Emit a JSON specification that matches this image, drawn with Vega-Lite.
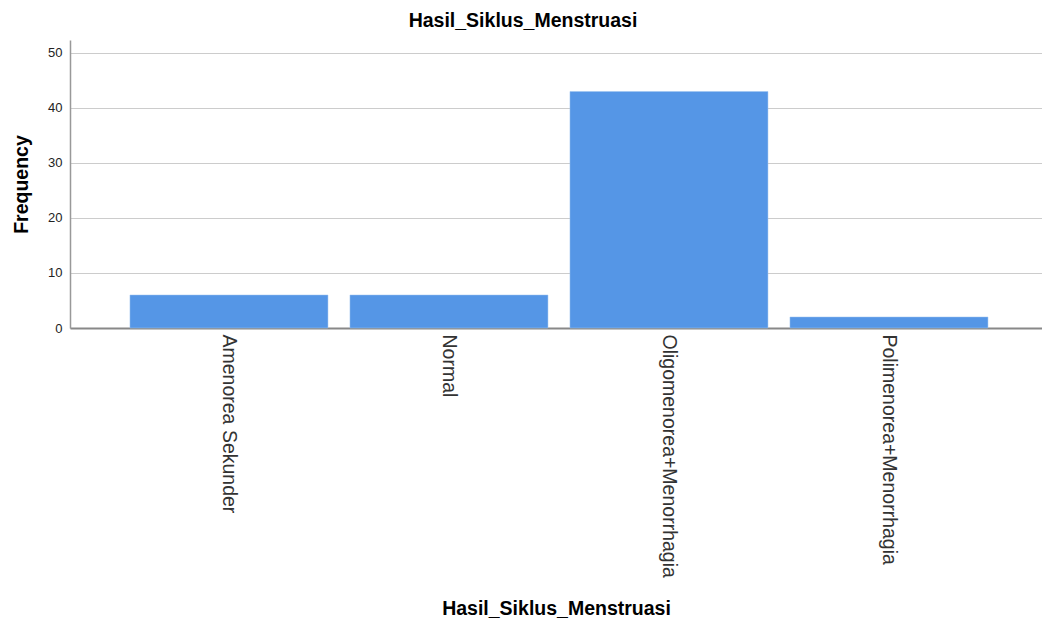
{
  "$schema": "https://vega.github.io/schema/vega-lite/v6.json",
  "width": 972,
  "height": 288,
  "autosize": {"type": "none"},
  "padding": {"left": 70, "top": 40, "right": 0, "bottom": 298},
  "background": "white",
  "title": {"text": "Hasil_Siklus_Menstruasi", "font": "Liberation Sans", "fontSize": 19.5, "fontWeight": "bold", "color": "#000000", "anchor": "middle", "dx": -33, "offset": 9},
  "config": {"view": {"stroke": null}, "font": "Liberation Sans"},
  "data": {"values": [
    {"kategori": "Amenorea Sekunder", "frekuensi": 6},
    {"kategori": "Normal", "frekuensi": 6},
    {"kategori": "Oligomenorea+Menorrhagia", "frekuensi": 43},
    {"kategori": "Polimenorea+Menorrhagia", "frekuensi": 2}
  ]},
  "mark": {"type": "bar", "color": "#5596E6", "stroke": "#9EC4F0", "strokeWidth": 0.5},
  "encoding": {
    "x": {"field": "kategori", "type": "nominal", "sort": null,
      "scale": {"paddingInner": 0.1, "paddingOuter": 0.2591, "align": 0.526},
      "axis": {"title": "Hasil_Siklus_Menstruasi", "titleFont": "Liberation Sans", "titleFontSize": 19.5, "titleFontWeight": "bold", "titleColor": "#000000", "titleBaseline": "middle", "titleY": 280,
        "labelAngle": 90, "labelFontSize": 19.5, "labelColor": "#333333", "labelFont": "Liberation Sans", "labelPadding": 6, "labelLimit": 320,
        "ticks": false, "domainColor": "#888888", "domainWidth": 2}},
    "y": {"field": "frekuensi", "type": "quantitative",
      "scale": {"domain": [0, 52.36], "nice": false},
      "axis": {"title": "Frequency", "titleFont": "Liberation Sans", "titleFontSize": 19.5, "titleFontWeight": "bold", "titleColor": "#000000", "titlePadding": 16,
        "values": [0, 10, 20, 30, 40, 50], "labelFontSize": 13, "labelColor": "#222222", "labelPadding": 8,
        "ticks": false, "domainColor": "#999999", "domainWidth": 1.5, "grid": true, "gridColor": "#CCCCCC", "gridWidth": 1.2}}
  }
}
